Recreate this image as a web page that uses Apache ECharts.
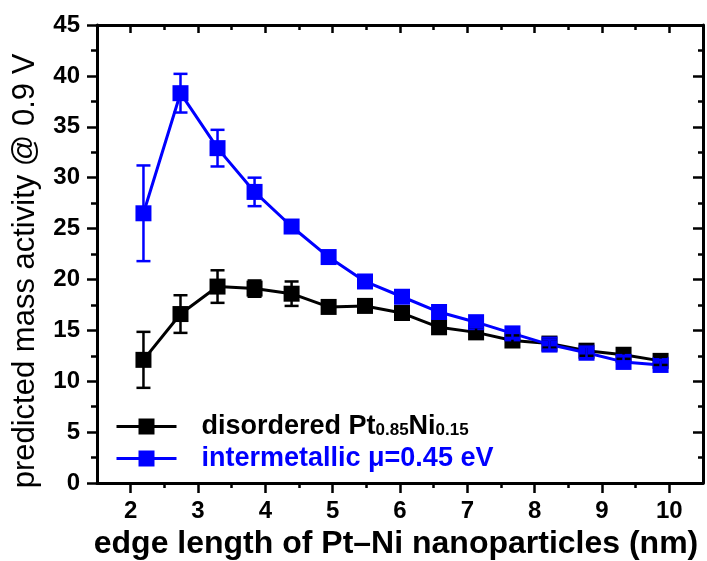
<!DOCTYPE html>
<html>
<head>
<meta charset="utf-8">
<script src="https://cdn.jsdelivr.net/npm/echarts@6/dist/echarts.min.js"></script>
<style>
html,body{margin:0;padding:0;background:#fff;}
#chart{width:707px;height:561px;}
</style>
</head>
<body>
<div id="chart"></div>
<script>
// ---- data ----
const edgeLength = [2.19, 2.74, 3.29, 3.84, 4.39, 4.94, 5.48, 6.03, 6.58, 7.13, 7.67, 8.22, 8.77, 9.32, 9.87];
const disorderedValues = [12.1, 16.6, 19.3, 19.1, 18.6, 17.3, 17.4, 16.7, 15.3, 14.8, 14.0, 13.7, 13.0, 12.6, 12.0];
const disorderedErrors = [2.75, 1.85, 1.6, 0.8, 1.2, 0.5, 0.5, 0.6, 0.5, 0.5, 0.5, 0.4, 0.5, 0.4, 0.4];
const intermetallicValues = [26.5, 38.3, 32.9, 28.6, 25.2, 22.2, 19.8, 18.3, 16.8, 15.8, 14.7, 13.6, 12.8, 11.9, 11.6];
const intermetallicErrors = [4.7, 1.9, 1.8, 1.4, 0.5, 0.4, 0.4, 0.5, 0.6, 0.5, 0.5, 0.5, 0.6, 0.6, 0.5];
const xMajorTicks = [2, 3, 4, 5, 6, 7, 8, 9, 10];
const xMinorTicks = [2.5, 3.5, 4.5, 5.5, 6.5, 7.5, 8.5, 9.5];
const seriesNames = ['disordered Pt0.85Ni0.15', 'intermetallic μ=0.45 eV'];
const xAxisTitle = 'edge length of Pt–Ni nanoparticles (nm)';
const yAxisTitle = 'predicted mass activity @ 0.9 V';

const FONT = '"Liberation Sans", Arial, sans-serif';
const BLACK = '#000000';
const BLUE = '#0000FF';

function pairs(xs, ys) { return xs.map((x, i) => [x, ys[i]]); }
function errData(xs, ys, es) { return xs.map((x, i) => [x, ys[i] - es[i], ys[i] + es[i]]); }
function errRender(color) {
  return function (params, api) {
    const x = api.value(0), lo = api.value(1), hi = api.value(2);
    const pLo = api.coord([x, lo]);
    const pHi = api.coord([x, hi]);
    const hw = 7;
    const style = { stroke: color, lineWidth: 2.5, fill: null };
    return {
      type: 'group',
      children: [
        { type: 'line', shape: { x1: pHi[0], y1: pHi[1], x2: pLo[0], y2: pLo[1] }, style: style },
        { type: 'line', shape: { x1: pHi[0] - hw, y1: pHi[1], x2: pHi[0] + hw, y2: pHi[1] }, style: style },
        { type: 'line', shape: { x1: pLo[0] - hw, y1: pLo[1], x2: pLo[0] + hw, y2: pLo[1] }, style: style }
      ]
    };
  };
}

const axisLineStyle = { color: BLACK, width: 3 };
const tickStyle = { color: BLACK, width: 2.5 };

const chart = echarts.init(document.getElementById('chart'), null, { renderer: 'canvas' });
chart.setOption({
  animation: false,
  backgroundColor: '#ffffff',
  grid: { left: 97, right: 4, top: 25, bottom: 78, containLabel: false, outerBoundsMode: 'none' },
  xAxis: [
    {
      type: 'value', position: 'bottom', min: 1.5, max: 10.5,
      axisLine: { show: true, onZero: false, lineStyle: axisLineStyle },
      axisTick: { show: true, length: 10, lineStyle: tickStyle, customValues: xMajorTicks },
      axisLabel: { show: true, customValues: xMajorTicks, margin: 16, color: BLACK, fontSize: 24, fontWeight: 'bold', fontFamily: FONT },
      splitLine: { show: false },
      name: xAxisTitle, nameLocation: 'middle', nameGap: 40,
      nameTextStyle: { color: BLACK, fontSize: 32, fontWeight: 'bold', fontFamily: FONT, padding: [0, 8, 0, 0] }
    },
    {
      type: 'value', position: 'bottom', min: 1.5, max: 10.5,
      axisLine: { show: false, onZero: false },
      axisTick: { show: true, length: 5, lineStyle: tickStyle, customValues: xMinorTicks },
      axisLabel: { show: false },
      splitLine: { show: false }
    },
    {
      type: 'value', position: 'top', min: 1.5, max: 10.5,
      axisLine: { show: true, onZero: false, lineStyle: axisLineStyle },
      axisTick: { show: true, inside: true, length: 8, lineStyle: tickStyle, customValues: xMajorTicks },
      axisLabel: { show: false },
      splitLine: { show: false }
    },
    {
      type: 'value', position: 'top', min: 1.5, max: 10.5,
      axisLine: { show: false, onZero: false },
      axisTick: { show: true, inside: true, length: 5, lineStyle: tickStyle, customValues: xMinorTicks },
      axisLabel: { show: false },
      splitLine: { show: false }
    }
  ],
  yAxis: [
    {
      type: 'value', position: 'left', min: 0, max: 45, interval: 5,
      axisLine: { show: true, onZero: false, lineStyle: axisLineStyle },
      axisTick: { show: true, length: 10, lineStyle: tickStyle },
      minorTick: { show: true, splitNumber: 2, length: 6, lineStyle: tickStyle },
      axisLabel: { show: true, margin: 17, color: BLACK, fontSize: 24, fontWeight: 'bold', fontFamily: FONT },
      splitLine: { show: false },
      name: yAxisTitle, nameLocation: 'middle', nameGap: 56,
      nameTextStyle: { color: BLACK, fontSize: 31, fontWeight: 'normal', fontFamily: FONT, padding: [0, 34, 0, 0] }
    },
    {
      type: 'value', position: 'right', min: 0, max: 45, interval: 5,
      axisLine: { show: true, onZero: false, lineStyle: axisLineStyle },
      axisTick: { show: true, inside: true, length: 10, lineStyle: tickStyle },
      minorTick: { show: true, splitNumber: 2, length: 5, lineStyle: tickStyle },
      axisLabel: { show: false },
      splitLine: { show: false }
    }
  ],
  legend: {
    data: seriesNames,
    orient: 'vertical', left: 115, top: 413, padding: 0,
    itemWidth: 60, itemHeight: 20, itemGap: 5,
    selectedMode: false,
    lineStyle: { width: 3 },
    formatter: function (name) {
      if (name === seriesNames[0]) {
        return '{g| }{k|disordered Pt}{ks|0.85}{k|Ni}{ks|0.15}';
      }
      return '{g| }{b|intermetallic μ=0.45 eV}';
    },
    textStyle: {
      rich: {
        g: { width: 20 },
        k: { color: BLACK, fontSize: 27, fontWeight: 'bold', fontFamily: FONT, lineHeight: 24 },
        ks: { color: BLACK, fontSize: 17, fontWeight: 'bold', fontFamily: FONT, lineHeight: 4, verticalAlign: 'bottom' },
        b: { color: BLUE, fontSize: 27, fontWeight: 'bold', fontFamily: FONT, lineHeight: 24 }
      }
    }
  },
  series: [
    {
      name: seriesNames[0], type: 'line', xAxisIndex: 0, yAxisIndex: 0,
      data: pairs(edgeLength, disorderedValues),
      symbol: 'rect', symbolSize: 16,
      lineStyle: { color: BLACK, width: 3 },
      itemStyle: { color: BLACK },
      z: 2
    },
    {
      name: seriesNames[1], type: 'line', xAxisIndex: 0, yAxisIndex: 0,
      data: pairs(edgeLength, intermetallicValues),
      symbol: 'rect', symbolSize: 16,
      lineStyle: { color: BLUE, width: 3 },
      itemStyle: { color: BLUE },
      z: 3
    },
    {
      name: 'disordered error', type: 'custom', xAxisIndex: 0, yAxisIndex: 0,
      data: errData(edgeLength, disorderedValues, disorderedErrors),
      renderItem: errRender(BLACK),
      encode: { x: 0, y: [1, 2] },
      z: 4
    },
    {
      name: 'intermetallic error', type: 'custom', xAxisIndex: 0, yAxisIndex: 0,
      data: errData(edgeLength, intermetallicValues, intermetallicErrors),
      renderItem: errRender(BLUE),
      encode: { x: 0, y: [1, 2] },
      z: 5
    }
  ]
});
</script>
</body>
</html>
